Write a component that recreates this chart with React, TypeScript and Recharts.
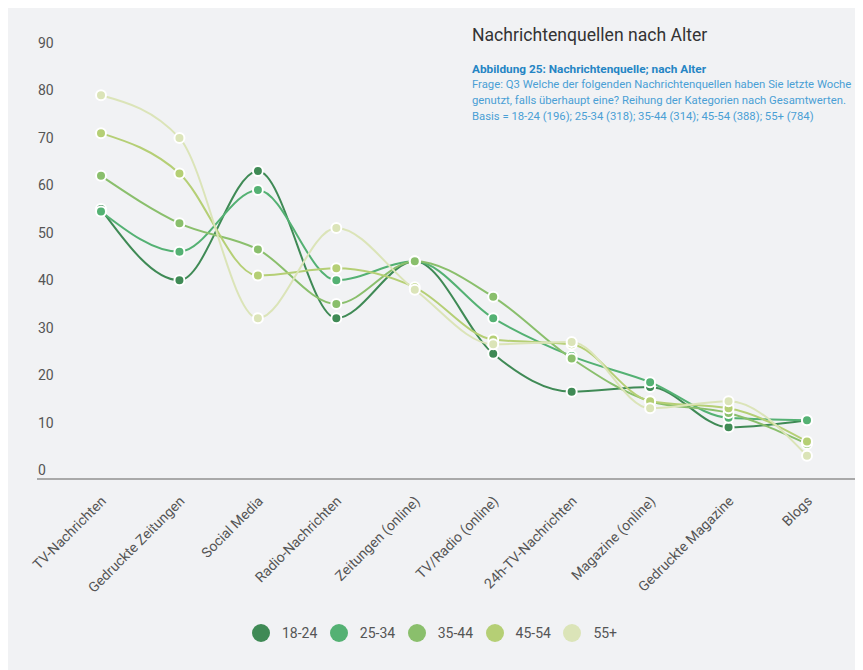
import { LineChart, Line, XAxis, YAxis } from 'recharts'

// Nachrichtenquellen, sortiert nach Gesamtwert
const categories = [
  'TV-Nachrichten',
  'Gedruckte Zeitungen',
  'Social Media',
  'Radio-Nachrichten',
  'Zeitungen (online)',
  'TV/Radio (online)',
  '24h-TV-Nachrichten',
  'Magazine (online)',
  'Gedruckte Magazine',
  'Blogs',
]

const ageGroups = ['18-24', '25-34', '35-44', '45-54', '55+']

// Anteile in Prozent je Altersgruppe
const age18to24 = [55, 40, 63, 32, 44, 24.5, 16.5, 17.5, 9, 10.5]
const age25to34 = [54.5, 46, 59, 40, 44, 32, 24, 18.5, 11, 10.5]
const age35to44 = [62, 52, 46.5, 35, 44, 36.5, 23.5, 14.5, 12, 5.5]
const age45to54 = [71, 62.5, 41, 42.5, 38.5, 27.5, 26.5, 14.5, 13, 6]
const age55plus = [79, 70, 32, 51, 38, 26.5, 27, 13, 14.5, 3]

const yTicks = [0, 10, 20, 30, 40, 50, 60, 70, 80, 90]

const colors = ['#3f8a55', '#54b173', '#8abf6c', '#b5cf75', '#dbe4b8']

const seriesValues = [age18to24, age25to34, age35to44, age45to54, age55plus]

const data = categories.map((name, i) => {
  const row: Record<string, string | number> = { name }
  ageGroups.forEach((group, j) => {
    row[group] = seriesValues[j][i]
  })
  return row
})

const CategoryTick = ({ x, y, payload }: any) => (
  <g transform={`translate(${x + 6},${y + 15}) rotate(-45)`}>
    <text x={0} y={0} textAnchor="end" fill="#555" fontSize={14}>
      {payload.value}
    </text>
  </g>
)

const ValueTick = ({ y, payload }: any) => (
  <text x={30} y={y} dy={5} textAnchor="start" fill="#555" fontSize={14}>
    {payload.value}
  </text>
)

export default function App() {
  return (
    <div
      style={{
        position: 'relative',
        width: 855,
        height: 664,
        marginTop: -2,
        background: '#f1f2f4',
        fontFamily: 'Roboto, sans-serif',
      }}
    >
      <LineChart
        width={855}
        height={664}
        data={data}
        margin={{ top: 37, right: 4, bottom: 0, left: 0 }}
      >
        <XAxis
          dataKey="name"
          height={191}
          interval={0}
          padding={{ left: 64, right: 52 }}
          axisLine={{ stroke: '#a9a9a9', strokeWidth: 2 }}
          tickLine={false}
          tick={<CategoryTick />}
        />
        <YAxis
          width={29}
          domain={[-1.9, 90]}
          ticks={yTicks}
          axisLine={false}
          tickLine={false}
          tick={<ValueTick />}
        />
        {ageGroups.map((group, j) => (
          <Line
            key={group}
            type="monotone"
            dataKey={group}
            stroke={colors[j]}
            strokeWidth={2}
            dot={{ r: 5, fill: colors[j], stroke: '#fff', strokeWidth: 2 }}
            activeDot={false}
            isAnimationActive={false}
          />
        ))}
      </LineChart>

      <div
        style={{
          position: 'absolute',
          left: 464,
          top: 19,
          fontSize: 17.6,
          lineHeight: '20px',
          color: '#333',
          whiteSpace: 'nowrap',
        }}
      >
        Nachrichtenquellen nach Alter
      </div>
      <div
        style={{
          position: 'absolute',
          left: 464,
          top: 55,
          fontSize: 11.3,
          lineHeight: '16px',
          color: '#4a9fd5',
          whiteSpace: 'nowrap',
        }}
      >
        <div style={{ fontWeight: 'bold', color: '#2585c4', fontSize: 11.8 }}>
          Abbildung 25: Nachrichtenquelle; nach Alter
        </div>
        <div>Frage: Q3 Welche der folgenden Nachrichtenquellen haben Sie letzte Woche</div>
        <div>genutzt, falls überhaupt eine? Reihung der Kategorien nach Gesamtwerten.</div>
        <div>Basis = 18-24 (196); 25-34 (318); 35-44 (314); 45-54 (388); 55+ (784)</div>
      </div>

      <div
        style={{
          position: 'absolute',
          left: 244,
          top: 618,
          display: 'flex',
          alignItems: 'center',
          fontSize: 14,
          color: '#555',
        }}
      >
        {ageGroups.map((group, j) => (
          <div key={group} style={{ display: 'flex', alignItems: 'center', marginRight: 12.5 }}>
            <span
              style={{
                display: 'inline-block',
                width: 18,
                height: 18,
                borderRadius: '50%',
                background: colors[j],
                marginRight: 12,
              }}
            />
            <span>{group}</span>
          </div>
        ))}
      </div>
    </div>
  )
}
